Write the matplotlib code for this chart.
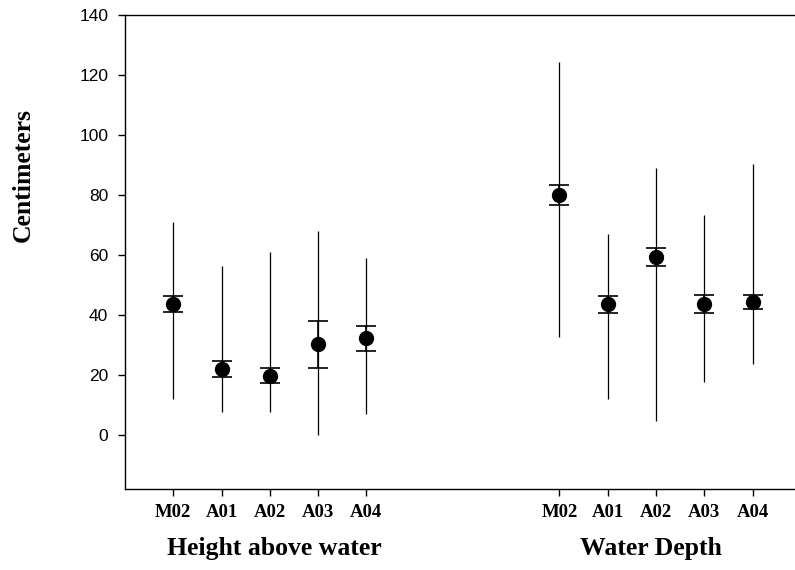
import matplotlib
matplotlib.use("Agg")
import matplotlib.pyplot as plt
import numpy as np

# sites, in order, for both groups
sites = ["M02", "A01", "A02", "A03", "A04"]
group_names = ["Height above water", "Water Depth"]

# height above water (cm)
height_mean = [43.7, 22.1, 19.8, 30.2, 32.2]
height_se_lo = [41.0, 19.3, 17.3, 22.3, 28.1]
height_se_hi = [46.4, 24.8, 22.3, 37.9, 36.4]
height_min = [12.0, 7.8, 7.8, 0.0, 6.9]
height_max = [71.0, 56.2, 61.1, 68.1, 59.0]

# water depth (cm)
depth_mean = [80.0, 43.6, 59.2, 43.7, 44.3]
depth_se_lo = [76.6, 40.6, 56.2, 40.6, 42.1]
depth_se_hi = [83.3, 46.4, 62.3, 46.7, 46.6]
depth_min = [32.6, 12.0, 4.8, 17.8, 23.8]
depth_max = [124.2, 67.0, 89.1, 73.2, 90.3]

x1 = np.arange(1, 6)
x2 = np.arange(9, 14)

fig = plt.figure(figsize=(7.95, 5.70), dpi=100)
ax = fig.add_axes([125 / 795, 81 / 570, 1 - 125 / 795, (489 - 15) / 570])

serif = ["Liberation Serif", "DejaVu Serif"]
sans = ["Liberation Sans", "DejaVu Sans"]

for x, m, lo, hi, mn, mx in [
    (x1, height_mean, height_se_lo, height_se_hi, height_min, height_max),
    (x2, depth_mean, depth_se_lo, depth_se_hi, depth_min, depth_max),
]:
    m = np.array(m)
    # range whiskers, no caps
    ax.errorbar(x, m, yerr=[m - np.array(mn), np.array(mx) - m], fmt="none",
                ecolor="black", elinewidth=0.9, capsize=0)
    # standard error with caps
    ax.errorbar(x, m, yerr=[m - np.array(lo), np.array(hi) - m], fmt="none",
                ecolor="black", elinewidth=1.2, capsize=7.5, capthick=1.2)
    ax.plot(x, m, "o", color="black", markersize=10, zorder=5)

ax.set_xlim(0, 13.88)
ax.set_ylim(-18, 140)
ax.set_yticks(np.arange(0, 141, 20))
ax.set_xticks(np.concatenate([x1, x2]))
ax.set_xticklabels(sites + sites, fontfamily=serif, fontweight="bold", fontsize=13.5)
for lab in ax.get_yticklabels():
    lab.set_fontfamily(sans)
    lab.set_fontsize(12.5)

ax.spines["right"].set_visible(False)
for s in ["left", "top", "bottom"]:
    ax.spines[s].set_linewidth(1.0)
ax.tick_params(axis="y", direction="out", length=5, width=1, pad=7)
ax.tick_params(axis="x", direction="out", length=5, width=1, pad=6)

# group labels under the ticks
ax.text(3.1, -0.125, group_names[0], transform=ax.get_xaxis_transform(),
        ha="center", va="center", fontfamily=serif, fontweight="bold", fontsize=18.5)
ax.text(10.9, -0.125, group_names[1], transform=ax.get_xaxis_transform(),
        ha="center", va="center", fontfamily=serif, fontweight="bold", fontsize=18.5)

fig.text(23 / 795, 1 - 175 / 570, "Centimeters", rotation=90, ha="center", va="center",
         fontfamily=serif, fontweight="bold", fontsize=18.5)

fig.savefig("out.png", dpi=100)
